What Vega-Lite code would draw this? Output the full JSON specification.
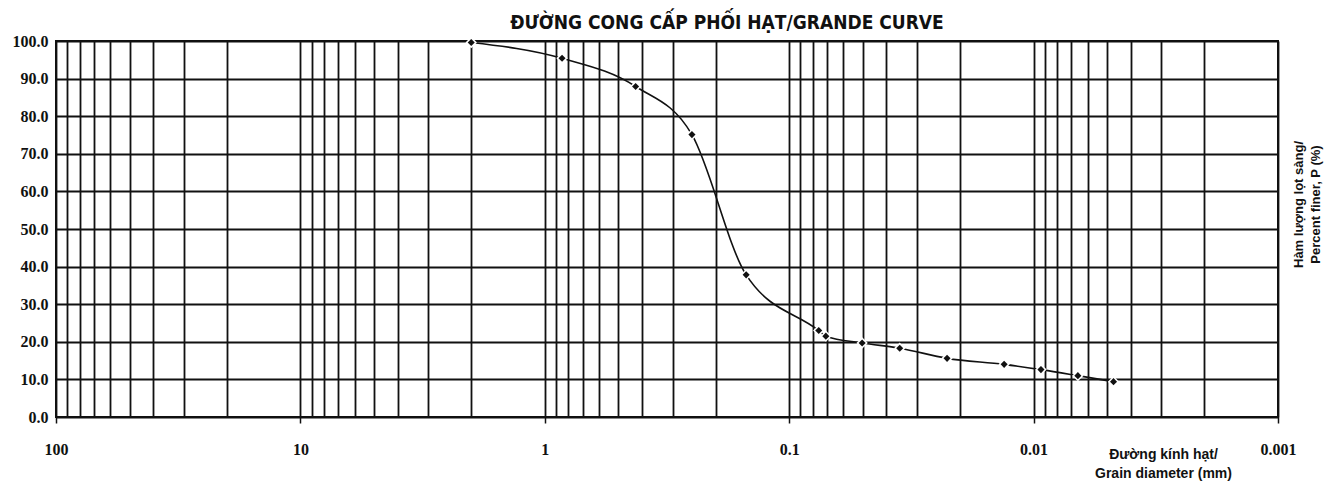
{
  "$schema": "https://vega.github.io/schema/vega-lite/v6.json",
  "width": 1222,
  "height": 376,
  "autosize": {"type": "none"},
  "padding": {"left": 56, "top": 41, "right": 52, "bottom": 70},
  "background": "white",
  "title": {
    "text": "ĐƯỜNG CONG CẤP PHỐI HẠT/GRANDE CURVE",
    "font": "DejaVu Sans Condensed",
    "fontSize": 19,
    "fontWeight": "bold",
    "color": "#111",
    "anchor": "middle",
    "dx": 60,
    "dy": 25,
    "baseline": "bottom",
    "offset": 6
  },
  "config": {"view": {"stroke": "#111", "strokeWidth": 2}},
  "data": {
    "values": [
      {"d": 2.0, "p": 99.6},
      {"d": 0.85, "p": 95.4},
      {"d": 0.425, "p": 87.9},
      {"d": 0.25, "p": 75.1},
      {"d": 0.15, "p": 37.8},
      {"d": 0.0757, "p": 23.0},
      {"d": 0.0708, "p": 21.5},
      {"d": 0.0503, "p": 19.7},
      {"d": 0.0353, "p": 18.3},
      {"d": 0.0226, "p": 15.6},
      {"d": 0.0132, "p": 14.0},
      {"d": 0.00933, "p": 12.6},
      {"d": 0.00659, "p": 11.0},
      {"d": 0.00471, "p": 9.4}
    ]
  },
  "encoding": {
    "x": {
      "field": "d",
      "type": "quantitative",
      "scale": {"type": "log", "domain": [0.001, 100], "reverse": true, "nice": false},
      "axis": {
        "values": [100, 90, 80, 70, 60, 50, 40, 30, 20, 10, 9, 8, 7, 6, 5, 4, 3, 2, 1, 0.9, 0.8, 0.7, 0.6, 0.5, 0.4, 0.3, 0.2, 0.1, 0.09, 0.08, 0.07, 0.06, 0.05, 0.04, 0.03, 0.02, 0.01, 0.009, 0.008, 0.007, 0.006, 0.005, 0.004, 0.003, 0.002, 0.001],
        "grid": true,
        "gridColor": "#111",
        "gridWidth": 1.8,
        "gridOpacity": 1,
        "domain": false,
        "ticks": true,
        "tickSize": 6,
        "tickColor": "#111",
        "tickWidth": 1.5,
        "tickOpacity": {"condition": {"test": "abs(log(datum.value)/LN10 - round(log(datum.value)/LN10)) < 0.001", "value": 1}, "value": 0},
        "labelExpr": "abs(log(datum.value)/LN10 - round(log(datum.value)/LN10)) < 0.001 ? '' + datum.value : ''",
        "labelFont": "Liberation Serif",
        "labelFontSize": 16,
        "labelFontWeight": "bold",
        "labelColor": "#111",
        "labelPadding": 18,
        "labelOverlap": false,
        "labelFlush": false,
        "labelBound": false,
        "title": ["Đường kính hạt/", "Grain diameter (mm)"],
        "titleFont": "Liberation Sans",
        "titleFontSize": 14,
        "titleFontWeight": "bold",
        "titleColor": "#111",
        "titleX": 1107,
        "titleY": 30,
        "titleAlign": "center",
        "titleBaseline": "top",
        "titleLineHeight": 19
      }
    },
    "y": {
      "field": "p",
      "type": "quantitative",
      "scale": {"domain": [0, 100], "nice": false},
      "axis": {
        "values": [0, 10, 20, 30, 40, 50, 60, 70, 80, 90, 100],
        "format": ".1f",
        "grid": true,
        "gridColor": "#111",
        "gridWidth": 1.8,
        "gridOpacity": 1,
        "domain": false,
        "ticks": false,
        "labelFont": "Liberation Serif",
        "labelFontSize": 16,
        "labelFontWeight": "bold",
        "labelColor": "#111",
        "labelPadding": 8,
        "title": ["Hàm lượng lọt sàng/", "Percent finer, P (%)"],
        "titleFont": "Liberation Sans",
        "titleFontSize": 13,
        "titleFontWeight": "bold",
        "titleColor": "#111",
        "titleAngle": -90,
        "titleX": 1246,
        "titleY": 163,
        "titleAlign": "center",
        "titleBaseline": "alphabetic",
        "titleLineHeight": 17
      }
    }
  },
  "layer": [
    {"mark": {"type": "line", "interpolate": "monotone", "color": "#111", "strokeWidth": 1.6}},
    {"mark": {"type": "point", "shape": "diamond", "filled": true, "color": "white", "size": 130, "opacity": 1}},
    {"mark": {"type": "point", "shape": "diamond", "filled": true, "color": "#111", "size": 50, "opacity": 1}}
  ]
}
